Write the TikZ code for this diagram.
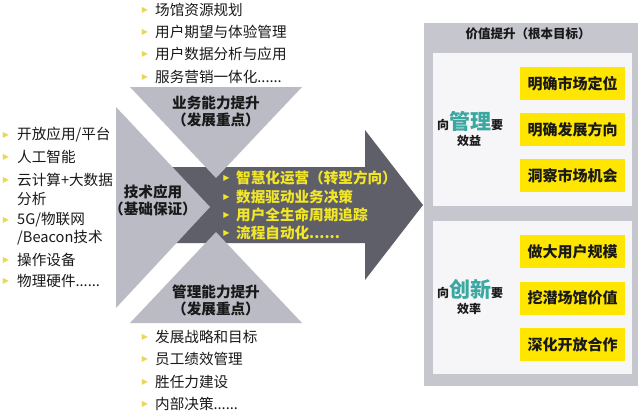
\documentclass[tikz,border=0pt]{standalone}
\usepackage{fontspec}
\setmainfont{Noto Sans CJK SC}
\newfontfamily\symfnt{DejaVu Sans}
\definecolor{lighttri}{RGB}{186,187,197}
\definecolor{darkarr}{RGB}{94,95,104}
\definecolor{panelgrey}{RGB}{197,198,206}
\definecolor{panelin}{RGB}{246,246,248}
\definecolor{eyyellow}{RGB}{255,230,0}
\definecolor{tealtxt}{RGB}{58,168,160}
\definecolor{arryel}{RGB}{242,230,40}
\definecolor{bulyel}{RGB}{232,216,84}
\definecolor{txt}{RGB}{25,25,25}
\newcommand\mybul[1]{{\symfnt\fontsize{8}{8}\selectfont\textcolor{#1}{▶}}}
\begin{document}
\begin{tikzpicture}[x=1pt,y=-1pt,
  listtext/.style={anchor=west,inner sep=0pt,text=txt,font=\fontsize{14.6}{16}\selectfont},
  bulnode/.style={inner sep=0pt},
  arrtext/.style={anchor=west,inner sep=0pt,text=arryel,font=\bfseries\fontsize{14.6}{16}\selectfont},
  trilabel/.style={align=center,inner sep=0pt,text=txt,font=\bfseries\fontsize{14.6}{17}\selectfont},
  ybox/.style={fill=eyyellow,minimum width=105,minimum height=33,inner sep=0pt,text=txt,font=\bfseries\fontsize{15}{17}\selectfont},
  smalltxt/.style={inner sep=0pt,text=txt,font=\bfseries\fontsize{12}{14}\selectfont}]
\useasboundingbox (0,0) rectangle (640,415);
\fill[white] (0,0) rectangle (640,415);
% central arrow
\fill[darkarr] (160,167) -- (365,167) -- (365,130) -- (423,205) -- (365,280) -- (365,243) -- (160,243) -- cycle;
% triangles
\fill[lighttri] (130,87) -- (302,87) -- (216,178) -- cycle;
\fill[lighttri] (116,107) -- (210,207) -- (116,308) -- cycle;
\fill[lighttri] (130,323) -- (302,323) -- (216,232) -- cycle;
% triangle labels
\node[trilabel] (biz) at (216,111) {业务能力提升\\（发展重点）};
\node[trilabel] (tech) at (153,200) {技术应用\\（基础保证）};
\node[trilabel] (mgmt) at (216,300) {管理能力提升\\（发展重点）};
% arrow texts
\node[bulnode] (ab1) at (226.5,178) {\mybul{arryel}};
\node[arrtext] (at1) at (236,178) {智慧化运营（转型方向）};
\node[bulnode] (ab2) at (226.5,197) {\mybul{arryel}};
\node[arrtext] (at2) at (236,197) {数据驱动业务决策};
\node[bulnode] (ab3) at (226.5,215) {\mybul{arryel}};
\node[arrtext] (at3) at (236,215) {用户全生命周期追踪};
\node[bulnode] (ab4) at (226.5,233) {\mybul{arryel}};
\node[arrtext] (at4) at (236,233) {流程自动化......};
% top list
\node[bulnode] (tb1) at (145,10) {\mybul{bulyel}};
\node[listtext] (tt1) at (155,10) {场馆资源规划};
\node[bulnode] (tb2) at (145,32) {\mybul{bulyel}};
\node[listtext] (tt2) at (155,32) {用户期望与体验管理};
\node[bulnode] (tb3) at (145,54) {\mybul{bulyel}};
\node[listtext] (tt3) at (155,54) {用户数据分析与应用};
\node[bulnode] (tb4) at (145,77) {\mybul{bulyel}};
\node[listtext] (tt4) at (155,77) {服务营销一体化......};
% bottom list
\node[bulnode] (bb1) at (145,337) {\mybul{bulyel}};
\node[listtext] (bt1) at (155,337) {发展战略和目标};
\node[bulnode] (bb2) at (145,359) {\mybul{bulyel}};
\node[listtext] (bt2) at (155,359) {员工绩效管理};
\node[bulnode] (bb3) at (145,382) {\mybul{bulyel}};
\node[listtext] (bt3) at (155,382) {胜任力建设};
\node[bulnode] (bb4) at (145,404) {\mybul{bulyel}};
\node[listtext] (bt4) at (155,404) {内部决策......};
% left list
\node[bulnode] (lb1) at (6,135) {\mybul{bulyel}};
\node[listtext] (lt1) at (17,135) {开放应用/平台};
\node[bulnode] (lb2) at (6,157) {\mybul{bulyel}};
\node[listtext] (lt2) at (17,157) {人工智能};
\node[bulnode] (lb3) at (6,180) {\mybul{bulyel}};
\node[listtext] (lt3) at (17,180) {云计算+大数据};
\node[listtext] (lt3b) at (17,199) {分析};
\node[bulnode] (lb4) at (6,220) {\mybul{bulyel}};
\node[listtext] (lt4) at (17,220) {5G/物联网};
\node[listtext] (lt4b) at (17,238) {/Beacon技术};
\node[bulnode] (lb5) at (6,260) {\mybul{bulyel}};
\node[listtext] (lt5) at (17,260) {操作设备};
\node[bulnode] (lb6) at (6,281) {\mybul{bulyel}};
\node[listtext] (lt6) at (17,281) {物理硬件......};
% right panel
\fill[panelgrey] (424,23) rectangle (638,386);
\fill[panelin] (433,53) rectangle (632,206);
\fill[panelin] (433,221) rectangle (632,374);
\node[smalltxt,font=\bfseries\fontsize{12.5}{14}\selectfont] (title) at (528,34) {价值提升（根本目标）};
\node[ybox] (y1) at (572.5,83.5) {明确市场定位};
\node[ybox] (y2) at (572.5,129.5) {明确发展方向};
\node[ybox] (y3) at (572.5,175.5) {洞察市场机会};
\node[ybox] (y4) at (572.5,251.5) {做大用户规模};
\node[ybox] (y5) at (572.5,298) {挖潜场馆价值};
\node[ybox] (y6) at (572.5,344.5) {深化开放合作};
\node[smalltxt,anchor=base] (m1) at (470,129) {向{\fontsize{21}{22}\selectfont\color{tealtxt}管理}要};
\node[smalltxt] (m2) at (469,141) {效益};
\node[smalltxt,anchor=base] (c1) at (470,297) {向{\fontsize{21}{22}\selectfont\color{tealtxt}创新}要};
\node[smalltxt] (c2) at (469,309) {效率};
\end{tikzpicture}
\end{document}
